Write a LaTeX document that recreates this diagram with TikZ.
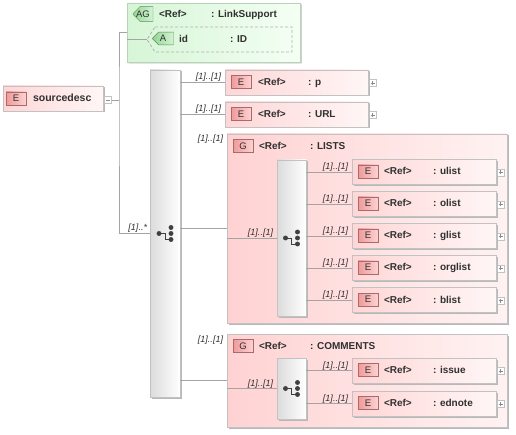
\documentclass[tikz,border=0pt]{standalone}
\usepackage{fontspec}
\setmainfont{Liberation Sans}
\usetikzlibrary{shapes.misc,shadows}
\definecolor{elL}{HTML}{FFD6D6}
\definecolor{elR}{HTML}{FFF6F6}
\definecolor{grL}{HTML}{FFD2D2}
\definecolor{grR}{HTML}{FFF2F2}
\definecolor{bdr}{HTML}{C2C2C2}
\definecolor{bdgL}{HTML}{F09A9A}
\definecolor{bdgR}{HTML}{FCD2D2}
\definecolor{bdgB}{HTML}{A86A6A}
\definecolor{agL}{HTML}{D6F5D6}
\definecolor{agR}{HTML}{F4FFF4}
\definecolor{agB}{HTML}{B8D4B8}
\definecolor{gbL}{HTML}{94D494}
\definecolor{gbR}{HTML}{D4F4D4}
\definecolor{gbB}{HTML}{5E8E5E}
\definecolor{lineC}{HTML}{A4A4A4}
\definecolor{txt}{HTML}{303030}
\definecolor{iconC}{HTML}{404040}
\tikzset{
  base/.style={inner sep=0pt, outer sep=0pt},
  shad/.style={drop shadow={shadow xshift=1.5pt, shadow yshift=-1.5pt, fill=black!28, opacity=1}},
  elbox/.style 2 args={base, rectangle, draw=bdr, left color=elL, right color=elR,
    minimum width=#1, minimum height=#2, shad},
  grbox/.style 2 args={base, rectangle, draw=bdr, left color=grL, right color=grR,
    minimum width=#1, minimum height=#2, shad},
  seqbar/.style 2 args={base, rectangle, draw=bdr, left color=black!14, right color=white,
    minimum width=#1, minimum height=#2, shad},
  badge/.style={base, draw=bdgB, left color=bdgL, right color=bdgR, minimum width=20pt,
    minimum height=13pt, font=\fontsize{9.5}{10}\selectfont, text=txt},
  gbadge/.style={base, chamfered rectangle, chamfered rectangle corners={north west,south west},
    chamfered rectangle xsep=3pt, chamfered rectangle ysep=4pt, draw=gbB, left color=gbL,
    right color=gbR, minimum width=20pt, minimum height=11.5pt,
    font=\fontsize{9.5}{10}\selectfont, text=txt},
  tx/.style={base, anchor=base west, font=\bfseries\fontsize{10}{12}\selectfont, text=txt},
  card/.style={base, anchor=base east, font=\itshape\fontsize{9}{10}\selectfont, text=txt},
  pbox/.style={base, rectangle, draw=bdr, fill=white, minimum width=7pt, minimum height=7pt},
  pcol/.style={draw=black!45, line width=0.5pt},
  conn/.style={draw=lineC, line width=0.8pt},
  icon/.style={draw=iconC, fill=iconC, line width=0.8pt},
}
\newcommand\elemnode[7]{%
  \node[elbox={#4}{25pt}] (#1) at (#2,#3) {};
  \node[badge] (#1-b) at ([xshift=16pt,yshift=0.5pt]#1.west) {E};
  \node[tx] (#1-r) at ([xshift=#6,yshift=-3pt]#1.west) {<Ref>};
  \node[tx] (#1-n) at ([xshift=#7,yshift=-3pt]#1.west) {: #5};
  \node[pbox] (#1-p) at ([xshift=4.5pt,yshift=-0.5pt]#1.east) {};
  \draw[pcol] ([xshift=-2pt]#1-p.center) -- ([xshift=2pt]#1-p.center)
              ([yshift=-2pt]#1-p.center) -- ([yshift=2pt]#1-p.center);
  \node[card] (#1-c) at ([xshift=-4pt,yshift=2.5pt]#1.west) {[1]..[1]};
}
\newcommand\groupnode[6]{%
  \node[grbox={#4}{#5}] (#1) at (#2,#3) {};
  \node[badge] (#1-b) at ([xshift=16pt,yshift=-12pt]#1.north west) {G};
  \node[tx] (#1-r) at ([xshift=32pt,yshift=-15.5pt]#1.north west) {<Ref>};
  \node[tx] (#1-n) at ([xshift=83pt,yshift=-15.5pt]#1.north west) {: #6};
  \node[card] (#1-c) at ([xshift=-4pt,yshift=-8pt]#1.north west) {[1]..[1]};
}
\newcommand\seqicon[1]{%
  \draw[icon, fill=none] ([xshift=-6pt]#1.center) -- (#1.center) -- ([yshift=-6pt]#1.center)
        -- ([xshift=6pt,yshift=-6pt]#1.center);
  \foreach \dy in {6,0,-6} \fill[icon] ([xshift=6pt,yshift=\dy pt]#1.center) circle (2);
  \fill[icon] ([xshift=-6pt]#1.center) circle (2);
}
\begin{document}
\begin{tikzpicture}[x=1pt,y=-1pt]
\useasboundingbox[fill=white] (0,0) rectangle (516,435);

% root element
\node[elbox={100pt}{25pt}] (src) at (53,98.5) {};
\node[badge] (src-b) at ([xshift=13pt]src.west) {E};
\node[tx, font=\bfseries\fontsize{10.5}{12}\selectfont] (src-t) at ([xshift=30pt,yshift=-3.5pt]src.west) {sourcedesc};
\node[pbox] (src-m) at (108,100) {};
\draw[pcol] ([xshift=-2pt]src-m.center) -- ([xshift=2pt]src-m.center);
\coordinate (fork) at (119,100);

% attribute group
\node[base, chamfered rectangle, chamfered rectangle corners={north west,south west},
  chamfered rectangle xsep=9pt, chamfered rectangle ysep=9pt, draw=agB, left color=agL,
  right color=agR, minimum width=173pt, minimum height=59pt, shad] (ag) at (213.5,32.5) {};
\node[gbadge] (ag-b) at (143,14) {AG};
\node[tx] (ag-r) at (159,18) {<Ref>};
\node[tx] (ag-n) at (211,18) {: LinkSupport};
\node[base, rectangle, minimum width=137pt, minimum height=25pt] (ida) at (223.5,39.5) {};
\coordinate (idtip) at ([xshift=-8pt]ida.west);
\draw[draw=black!30, dash pattern=on 3pt off 2pt, line width=0.8pt]
  (ida.north west) -- (ida.north east) -- (ida.south east) -- (ida.south west) -- (idtip) -- cycle;
\node[gbadge, minimum width=21pt] (ida-b) at (163,38.5) {A};
\node[tx] (ida-r) at (179,43) {id};
\node[tx] (ida-n) at (230,43) {: ID};

% main sequence
\node[seqbar={30pt}{327pt}] (seq) at (165,233.5) {};
\seqicon{seq}
\node[card] (seq-c) at ([xshift=-3pt,yshift=2.5pt]seq.west) {[1]..*};

\draw[conn] (src-m.east) -- (fork);
\draw[conn] (ag.west) -| (fork) |- (seq.west);
\draw[conn] (ag.west |- idtip) -- (idtip);

% main children
\elemnode{p}{296.5}{82.5}{143pt}{p}{33pt}{83pt}
\elemnode{url}{296.5}{114.5}{143pt}{URL}{33pt}{83pt}
\draw[conn] (seq.east |- p.west) -- (p.west);
\draw[conn] (seq.east |- url.west) -- (url.west);

% LISTS group
\groupnode{lists}{367}{228.5}{280pt}{189pt}{LISTS}
\draw[conn] (seq.east |- lists.west) -- (lists.west);
\node[seqbar={29pt}{156pt}] (sq2) at (291.5,238) {};
\seqicon{sq2}
\node[card] (sq2-c) at ([xshift=-4pt,yshift=2.5pt]sq2.west) {[1]..[1]};
\draw[conn] (lists.west |- sq2.west) -- (sq2.west);
\foreach \nm/\cy in {ulist/172, olist/204, glist/236, orglist/268, blist/300} {
  \elemnode{\nm}{424}{\cy}{144pt}{\nm}{32pt}{81pt}
  \draw[conn] (sq2.east |- \nm.west) -- (\nm.west);
}

% COMMENTS group
\groupnode{comm}{367}{380.5}{280pt}{93pt}{COMMENTS}
\draw[conn] (seq.east |- comm.west) -- (comm.west);
\node[seqbar={29pt}{61pt}] (sq3) at (291.5,388.5) {};
\seqicon{sq3}
\node[card] (sq3-c) at ([xshift=-4pt,yshift=2.5pt]sq3.west) {[1]..[1]};
\draw[conn] (comm.west |- sq3.west) -- (sq3.west);
\foreach \nm/\cy in {issue/370.5, ednote/403.5} {
  \elemnode{\nm}{424}{\cy}{144pt}{\nm}{32pt}{81pt}
  \draw[conn] (sq3.east |- \nm.west) -- (\nm.west);
}
\end{tikzpicture}
\end{document}
